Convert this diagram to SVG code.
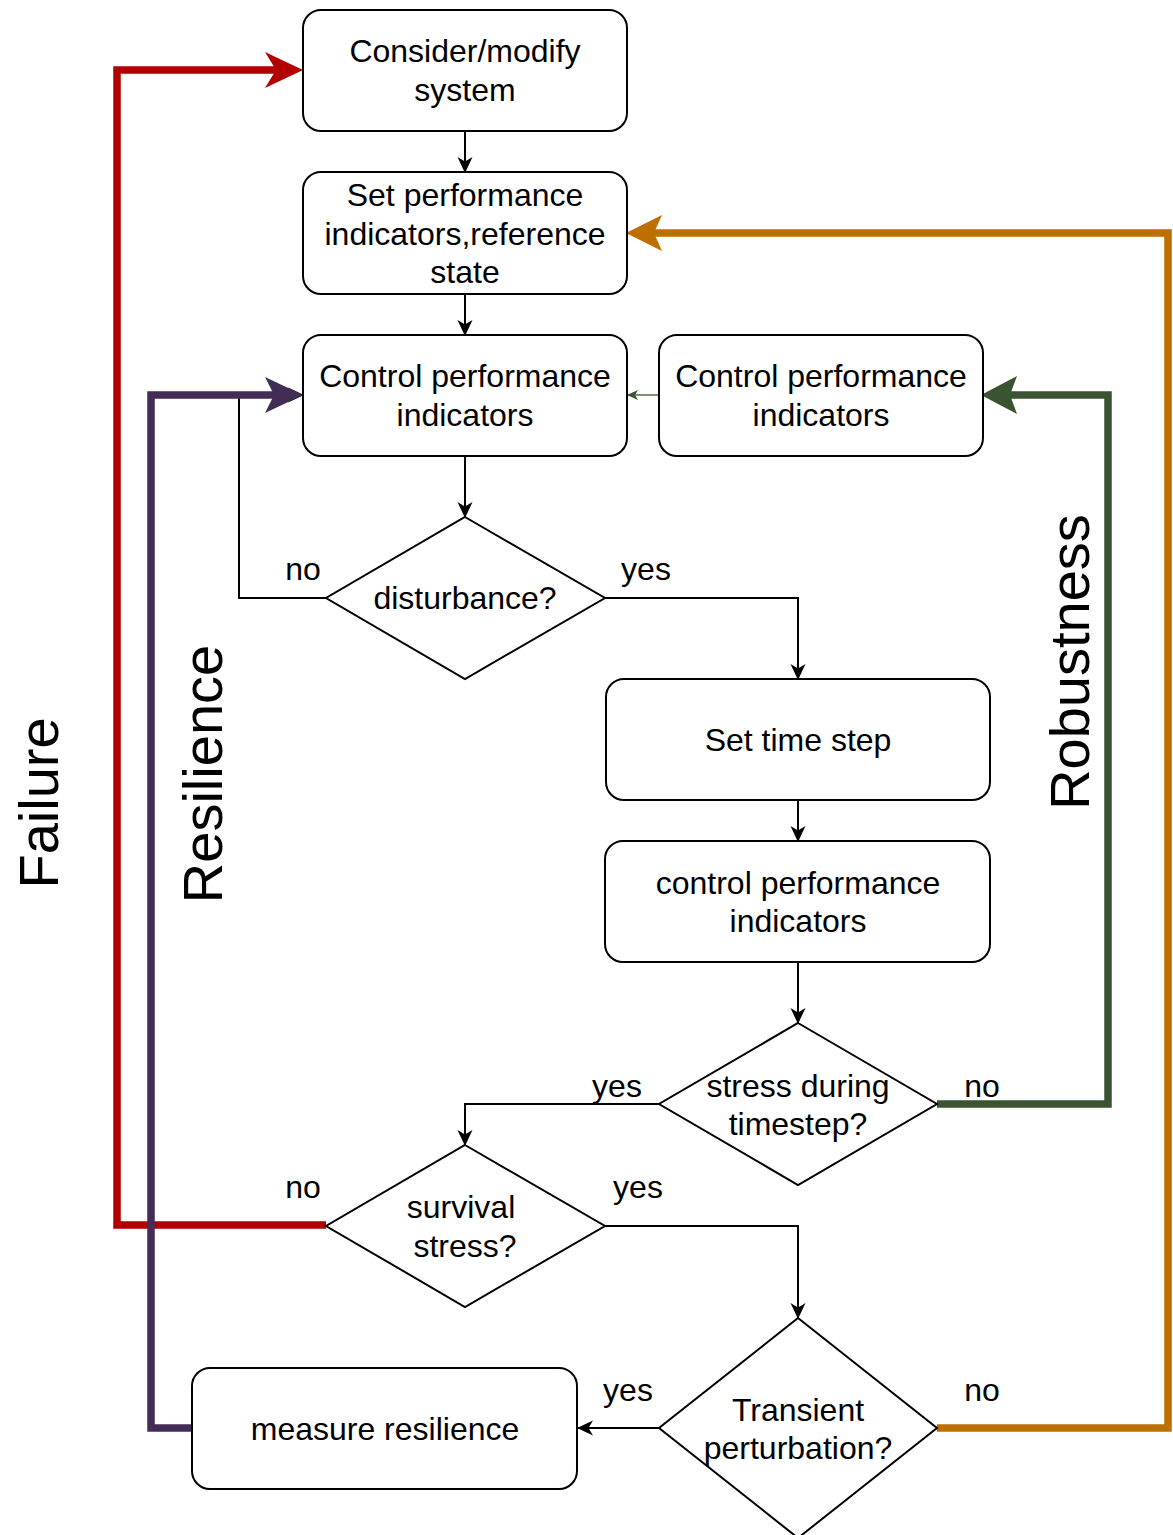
<svg xmlns="http://www.w3.org/2000/svg" width="1173" height="1535" viewBox="0 0 1173 1535">
<style>
.node{fill:#ffffff;stroke:#000000;stroke-width:2}
.t{font-family:"Liberation Sans",Arial,sans-serif;font-size:32px;fill:#000000;text-anchor:middle}
.big{font-family:"Liberation Sans",Arial,sans-serif;font-size:56px;fill:#000000;text-anchor:middle}
.c{fill:none;stroke:#000000;stroke-width:2}
.thick{fill:none;stroke-width:7.5;stroke-linejoin:miter}
</style>
<defs>
<marker id="ab" markerUnits="userSpaceOnUse" markerWidth="16" markerHeight="15" refX="15" refY="7.5" orient="auto" overflow="visible">
<path d="M0,0 L16,7.5 L0,15 L4.5,7.5 Z" fill="#000000"/>
</marker>
<marker id="ag" markerUnits="userSpaceOnUse" markerWidth="11" markerHeight="10" refX="10" refY="5" orient="auto" overflow="visible">
<path d="M0,0 L11,5 L0,10 L3,5 Z" fill="#3A5431"/>
</marker>
<marker id="aR" markerUnits="userSpaceOnUse" markerWidth="38" markerHeight="36" refX="18" refY="18" orient="auto" overflow="visible">
<path d="M0,0 L38,18 L0,36 L11,18 Z" fill="#B20000"/>
</marker>
<marker id="aP" markerUnits="userSpaceOnUse" markerWidth="38" markerHeight="36" refX="18" refY="18" orient="auto" overflow="visible">
<path d="M0,0 L38,18 L0,36 L9,18 Z" fill="#432D57"/>
</marker>
<marker id="aO" markerUnits="userSpaceOnUse" markerWidth="36" markerHeight="36" refX="16" refY="18" orient="auto" overflow="visible">
<path d="M0,0 L36,18 L0,36 L8,18 Z" fill="#BD7000"/>
</marker>
<marker id="aG" markerUnits="userSpaceOnUse" markerWidth="36" markerHeight="38" refX="16" refY="19" orient="auto" overflow="visible">
<path d="M0,0 L36,19 L0,38 L7,19 Z" fill="#3A5431"/>
</marker>
</defs>

<g id="connectors">
<path class="c" d="M465,131 L465,172" marker-end="url(#ab)"/>
<path class="c" d="M465,294 L465,335" marker-end="url(#ab)"/>
<path class="c" d="M465,456 L465,517" marker-end="url(#ab)"/>
<path class="c" d="M605,598 L798,598 L798,679" marker-end="url(#ab)"/>
<path class="c" d="M798,800 L798,841" marker-end="url(#ab)"/>
<path class="c" d="M798,962 L798,1023" marker-end="url(#ab)"/>
<path class="c" d="M659,1104 L465,1104 L465,1145" marker-end="url(#ab)"/>
<path class="c" d="M605,1226 L798,1226 L798,1318" marker-end="url(#ab)"/>
<path class="c" d="M659,1428 L578,1428" marker-end="url(#ab)"/>
<path class="c" d="M326,598 L239,598 L239,395 L303,395" marker-end="url(#ab)"/>
<path d="M659,395 L628,395" fill="none" stroke="#3A5431" stroke-width="1.3" marker-end="url(#ag)"/>
<path class="thick" stroke="#BD7000" d="M937,1428 L1168,1428 L1168,233 L646,233" marker-end="url(#aO)"/>
<path class="thick" stroke="#3A5431" d="M937,1104 L1108,1104 L1108,395 L1001,395" marker-end="url(#aG)"/>
<path class="thick" stroke="#B20000" d="M326,1225 L117,1225 L117,70 L283,70" marker-end="url(#aR)"/>
<path class="thick" stroke="#432D57" d="M192,1428 L151,1428 L151,395 L283,395" marker-end="url(#aP)"/>
</g>

<g id="n1"><rect class="node" x="303" y="10" width="324" height="121" rx="18"/>
<text class="t" x="465" y="62">Consider/modify</text><text class="t" x="465" y="101">system</text></g>
<g id="n2"><rect class="node" x="303" y="172" width="324" height="122" rx="18"/>
<text class="t" x="465" y="206">Set performance</text><text class="t" x="465" y="245">indicators,reference</text><text class="t" x="465" y="283">state</text></g>
<g id="n3"><rect class="node" x="303" y="335" width="324" height="121" rx="18"/>
<text class="t" x="465" y="387">Control performance</text><text class="t" x="465" y="426">indicators</text></g>
<g id="n4"><rect class="node" x="659" y="335" width="324" height="121" rx="18"/>
<text class="t" x="821" y="387">Control performance</text><text class="t" x="821" y="426">indicators</text></g>
<g id="n5"><polygon class="node" points="465,517 605,598 465,679 326,598"/>
<text class="t" x="465" y="609">disturbance?</text></g>
<g id="n6"><rect class="node" x="606" y="679" width="384" height="121" rx="18"/>
<text class="t" x="798" y="751">Set time step</text></g>
<g id="n7"><rect class="node" x="605" y="841" width="385" height="121" rx="18"/>
<text class="t" x="798" y="894">control performance</text><text class="t" x="798" y="932">indicators</text></g>
<g id="n8"><polygon class="node" points="798,1023 937,1104 798,1185 659,1104"/>
<text class="t" x="798" y="1097">stress during</text><text class="t" x="798" y="1135">timestep?</text></g>
<g id="n9"><polygon class="node" points="465,1145 605,1226 465,1307 326,1226"/>
<text class="t" x="461" y="1218">survival</text><text class="t" x="465" y="1257">stress?</text></g>
<g id="n10"><polygon class="node" points="798,1318 937,1428 798,1538 659,1428"/>
<text class="t" x="798" y="1421">Transient</text><text class="t" x="798" y="1459">perturbation?</text></g>
<g id="n11"><rect class="node" x="192" y="1368" width="385" height="121" rx="18"/>
<text class="t" x="385" y="1440">measure resilience</text></g>

<g id="labels">
<text class="t" x="303" y="580">no</text>
<text class="t" x="646" y="580">yes</text>
<text class="t" x="617" y="1097">yes</text>
<text class="t" x="982" y="1097">no</text>
<text class="t" x="303" y="1198">no</text>
<text class="t" x="638" y="1198">yes</text>
<text class="t" x="628" y="1401">yes</text>
<text class="t" x="982" y="1401">no</text>
<text class="big" transform="translate(58,803) rotate(-90)">Failure</text>
<text class="big" transform="translate(222,774) rotate(-90)">Resilience</text>
<text class="big" transform="translate(1089,662) rotate(-90)">Robustness</text>
</g>
</svg>
